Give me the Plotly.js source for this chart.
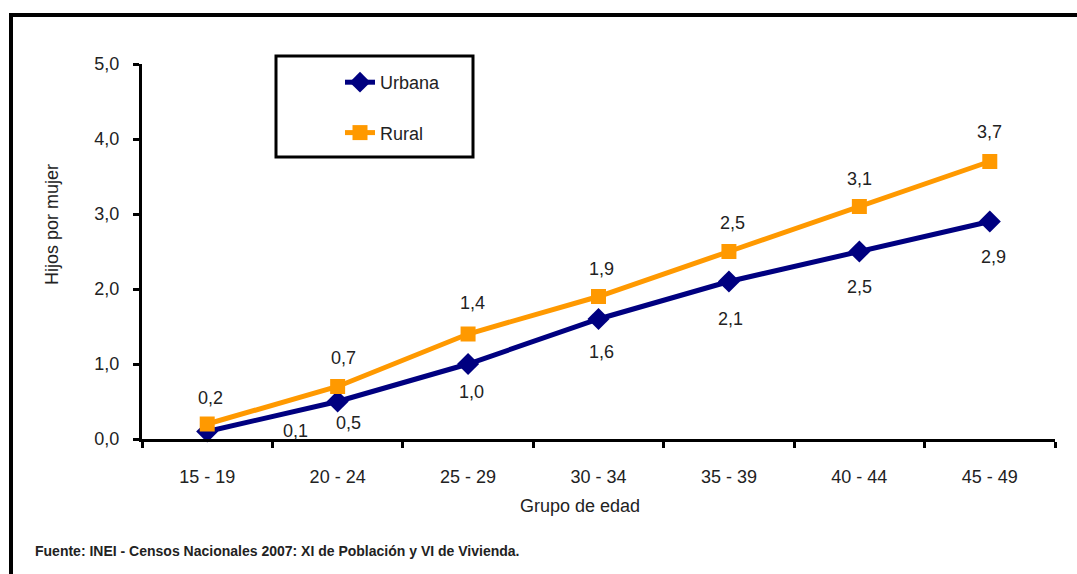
<!DOCTYPE html>
<html>
<head>
<meta charset="utf-8">
<script src="https://cdn.plot.ly/plotly-3.0.1.min.js"></script>
<style>html,body{margin:0;padding:0;background:#fff;}#chart{width:1077px;height:574px;}</style>
</head>
<body>
<div id="chart"></div>
<script>
// Data
const categories = ["15 - 19", "20 - 24", "25 - 29", "30 - 34", "35 - 39", "40 - 44", "45 - 49"];
const urbana = [0.1, 0.5, 1.0, 1.6, 2.1, 2.5, 2.9];
const rural = [0.2, 0.7, 1.4, 1.9, 2.5, 3.1, 3.7];
const yTickVals = [0, 1, 2, 3, 4, 5];
const yTickText = ["0,0", "1,0", "2,0", "3,0", "4,0", "5,0"];
const seriesNames = ["Urbana", "Rural"];
const sourceText = "Fuente: INEI - Censos Nacionales 2007: XI de Población y VI de Vivienda.";

// Styles
const FONT = "Liberation Sans Narrow, Arial Narrow, Liberation Sans, Arial, sans-serif";
const NAVY = "#000080";
const ORANGE = "#FF9900";
const TXT = "#222";
const FS = 18;
const fmt = v => v.toFixed(1).replace(".", ",");

// Label offsets (px) per point
const urbOffsets = [[88, 1], [11, -21], [3, -28], [3, -33], [2, -37], [0, -35], [4, -35]];
const rurOffsets = [[3, 26], [6, 29], [4, 31], [3, 28], [4, 29], [0, 28], [0, 30]];

const traces = [
  {
    x: categories, y: urbana, name: seriesNames[0], type: "scatter", mode: "lines+markers",
    line: {color: NAVY, width: 5}, marker: {symbol: "diamond", size: 17, color: NAVY},
    cliponaxis: false, legendgroup: "u"
  },
  {
    x: categories, y: rural, name: seriesNames[1], type: "scatter", mode: "lines+markers",
    line: {color: ORANGE, width: 5}, marker: {symbol: "square", size: 15, color: ORANGE},
    cliponaxis: false, legendgroup: "r"
  }
];

const annotations = [];
categories.forEach((c, i) => {
  annotations.push({x: c, y: urbana[i], xref: "x", yref: "y", text: fmt(urbana[i]), showarrow: false,
    xshift: urbOffsets[i][0], yshift: urbOffsets[i][1], font: {family: FONT, size: FS, color: TXT}});
  annotations.push({x: c, y: rural[i], xref: "x", yref: "y", text: fmt(rural[i]), showarrow: false,
    xshift: rurOffsets[i][0], yshift: rurOffsets[i][1], font: {family: FONT, size: FS, color: TXT}});
});
// axis titles & source
const L = 142, R = 1055, T = 64, B = 439;
const px = x => (x - L) / (R - L);
const py = y => (B - y) / (B - T);
annotations.push({xref: "paper", yref: "paper", x: px(580), y: py(506), xanchor: "center", yanchor: "middle",
  text: "Grupo de edad", showarrow: false, font: {family: FONT, size: FS, color: TXT}});
annotations.push({xref: "paper", yref: "paper", x: px(52), y: py(225), xanchor: "center", yanchor: "middle",
  text: "Hijos por mujer", textangle: -90, showarrow: false, font: {family: FONT, size: FS, color: TXT}});
annotations.push({xref: "paper", yref: "paper", x: px(33), y: py(551), xanchor: "left", yanchor: "middle",
  text: "<b>" + sourceText + "</b>", showarrow: false, font: {family: FONT, size: 14, color: TXT}});

const shapes = [
  // outer frame (top & left)
  {type: "line", xref: "paper", yref: "paper", x0: px(9), x1: px(1080), y0: py(15), y1: py(15), line: {color: "#000", width: 4}},
  {type: "line", xref: "paper", yref: "paper", x0: px(11), x1: px(11), y0: py(13), y1: py(580), line: {color: "#000", width: 4}},
  // legend box
  {type: "rect", xref: "paper", yref: "paper", x0: px(276), x1: px(473), y0: py(56), y1: py(157), line: {color: "#000", width: 3}, fillcolor: "rgba(0,0,0,0)"}
];

const layout = {
  width: 1077, height: 574,
  margin: {l: L, r: 1077 - R, t: T, b: 574 - B, pad: 0},
  paper_bgcolor: "#fff", plot_bgcolor: "#fff",
  font: {family: FONT, size: FS, color: TXT},
  showlegend: true,
  legend: {x: px(340), y: py(64), xanchor: "left", yanchor: "top", bgcolor: "rgba(0,0,0,0)", borderwidth: 0,
    traceorder: "grouped", tracegroupgap: 24, font: {family: FONT, size: FS, color: TXT}},
  xaxis: {type: "category", range: [-0.5, 6.5], showgrid: false, zeroline: false, showline: true,
    linecolor: "#000", linewidth: 3, ticks: "outside", tickson: "boundaries", ticklen: 6, tickwidth: 3, tickcolor: "#000",
    tickfont: {family: FONT, size: FS, color: TXT}, ticklabelstandoff: 19, fixedrange: true},
  yaxis: {range: [0, 5], tickvals: yTickVals, ticktext: yTickText, showgrid: false, zeroline: false, showline: true,
    linecolor: "#000", linewidth: 3, ticks: "outside", ticklen: 6, tickwidth: 3, tickcolor: "#000",
    tickfont: {family: FONT, size: FS, color: TXT}, ticklabelstandoff: 10, fixedrange: true},
  annotations: annotations,
  shapes: shapes
};

Plotly.newPlot("chart", traces, layout, {displayModeBar: false, staticPlot: true});
</script>
</body>
</html>
